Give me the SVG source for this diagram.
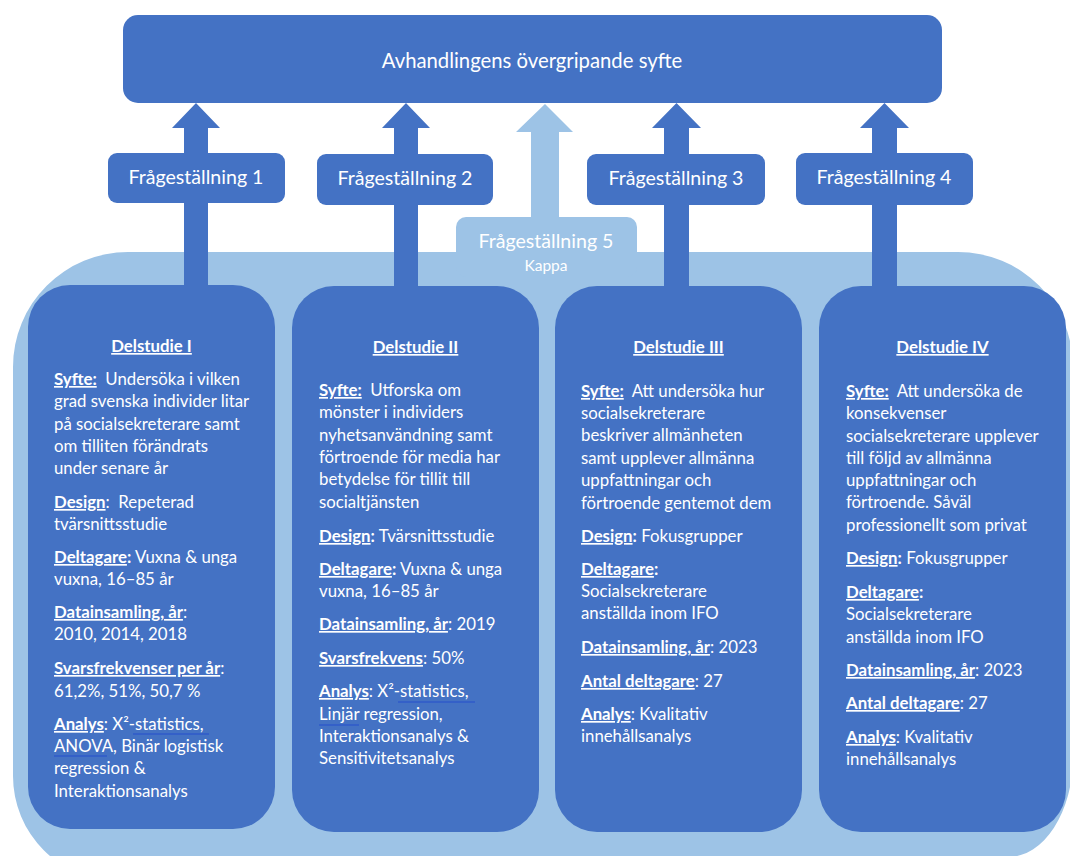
<svg xmlns="http://www.w3.org/2000/svg" width="1070" height="856" viewBox="0 0 1070 856">
  <style>
    .dark { fill: #4472C4; }
    .light { fill: #9DC3E6; }
    text { font-family: Lato, "Open Sans", "Liberation Sans", sans-serif; fill: #ffffff; white-space: pre; }
    .head { font-size: 20.3px; }
    .q { font-size: 19.6px; text-anchor: middle; }
    .kappa { font-size: 15.5px; text-anchor: middle; }
    .body { font-size: 16.8px; }
    .title { font-size: 16.8px; font-weight: bold; text-decoration: underline; text-anchor: middle; }
    .b { font-weight: bold; }
    .u { text-decoration: underline; }
    .spell { stroke: #2F5BC9; stroke-width: 1.3; fill: none; }
  </style>

  <!-- light background panel holding the four sub-studies -->
  <g id="kappa-panel">
    <path class="light" d="M128,252 H958 A115,115 0 0 1 1073,367 V757 A65,100 0 0 1 1008,857 L1008,900 L118,900 L118,881 A105,105 0 0 1 13,776 V367 A115,115 0 0 1 128,252 Z"/>
  </g>

  <!-- arrows from each research question up to the overall aim -->
  <g id="connectors">
    <polygon class="light" points="531,286 531,132 516,132 545,104 573,132 559,132 559,286"/>
    <polygon class="dark" points="184,286 184,128 172,128 196,103 220,128 208,128 208,286"/>
    <polygon class="dark" points="394,287 394,128 382,128 406,103 430,128 418,128 418,287"/>
    <polygon class="dark" points="664,287 664,128 652,128 676.5,103 701,128 689,128 689,287"/>
    <polygon class="dark" points="872,287 872,128 860,128 884.5,103 909,128 897,128 897,287"/>
  </g>

  <g id="aim">
    <rect class="dark" x="123" y="15" width="819" height="88" rx="15"/>
    <text class="head" x="532" y="68" text-anchor="middle">Avhandlingens övergripande syfte</text>
  </g>

  <g id="q1">
    <rect class="dark" x="108" y="153" width="177" height="50" rx="9"/>
    <text class="q" x="196" y="184">Frågeställning 1</text>
  </g>
  <g id="q2">
    <rect class="dark" x="317" y="154" width="176" height="51" rx="9"/>
    <text class="q" x="405" y="185">Frågeställning 2</text>
  </g>
  <g id="q3">
    <rect class="dark" x="587" y="154" width="178" height="51" rx="9"/>
    <text class="q" x="676" y="185">Frågeställning 3</text>
  </g>
  <g id="q4">
    <rect class="dark" x="796" y="153" width="177" height="52" rx="9"/>
    <text class="q" x="884" y="184">Frågeställning 4</text>
  </g>
  <g id="q5">
    <rect class="light" x="456" y="217" width="181" height="60" rx="10"/>
    <text class="q" x="546" y="248">Frågeställning 5</text>
    <text class="kappa" x="546" y="271">Kappa</text>
  </g>

  <g id="delstudie-1">
    <rect class="dark" x="28" y="285" width="247" height="544" rx="42"/>
    <text class="title" x="151.5" y="352">Delstudie I</text>
    <text class="body" x="54" y="385"><tspan class="b u">Syfte:</tspan>  Undersöka i vilken</text>
    <text class="body" x="54" y="407">grad svenska individer litar</text>
    <text class="body" x="54" y="430">på socialsekreterare samt</text>
    <text class="body" x="54" y="452">om tilliten förändrats</text>
    <text class="body" x="54" y="474">under senare år</text>
    <text class="body" x="54" y="508"><tspan class="b u">Design</tspan>:  Repeterad</text>
    <text class="body" x="54" y="530">tvärsnittsstudie</text>
    <text class="body" x="54" y="563"><tspan class="b u">Deltagare</tspan><tspan class="b">:</tspan> Vuxna &amp; unga</text>
    <text class="body" x="54" y="585">vuxna, 16–85 år</text>
    <text class="body" x="54" y="618"><tspan class="b u">Datainsamling, år</tspan>:</text>
    <text class="body" x="54" y="640">2010, 2014, 2018</text>
    <text class="body" x="54" y="674"><tspan class="b u">Svarsfrekvenser per år</tspan>:</text>
    <text class="body" x="54" y="697">61,2%, 51%, 50,7 %</text>
    <text class="body" x="54" y="730"><tspan class="b u">Analys</tspan>: X²-statistics,</text>
    <text class="body" x="54" y="752">ANOVA, Binär logistisk</text>
    <text class="body" x="54" y="774">regression &amp;</text>
    <text class="body" x="54" y="797">Interaktionsanalys</text>
    <path class="spell" d="M133,734 H209 M54,756 H107"/>
  </g>

  <g id="delstudie-2">
    <rect class="dark" x="292" y="286" width="247" height="546" rx="42"/>
    <text class="title" x="415.5" y="353">Delstudie II</text>
    <text class="body" x="319" y="396"><tspan class="b u">Syfte:</tspan>  Utforska om</text>
    <text class="body" x="319" y="418">mönster i individers</text>
    <text class="body" x="319" y="441">nyhetsanvändning samt</text>
    <text class="body" x="319" y="463">förtroende för media har</text>
    <text class="body" x="319" y="485">betydelse för tillit till</text>
    <text class="body" x="319" y="508">socialtjänsten</text>
    <text class="body" x="319" y="542"><tspan class="b u">Design</tspan><tspan class="b">:</tspan> Tvärsnittsstudie</text>
    <text class="body" x="319" y="575"><tspan class="b u">Deltagare</tspan><tspan class="b">:</tspan> Vuxna &amp; unga</text>
    <text class="body" x="319" y="597">vuxna, 16–85 år</text>
    <text class="body" x="319" y="630"><tspan class="b u">Datainsamling, år</tspan>: 2019</text>
    <text class="body" x="319" y="664"><tspan class="b u">Svarsfrekvens</tspan>: 50%</text>
    <text class="body" x="319" y="697"><tspan class="b u">Analys</tspan>: X²-statistics,</text>
    <text class="body" x="319" y="720">Linjär regression,</text>
    <text class="body" x="319" y="742">Interaktionsanalys &amp;</text>
    <text class="body" x="319" y="764">Sensitivitetsanalys</text>
    <path class="spell" d="M398,702 H475 M319,725 H359"/>
  </g>

  <g id="delstudie-3">
    <rect class="dark" x="555" y="286" width="247" height="546" rx="42"/>
    <text class="title" x="678.5" y="353">Delstudie III</text>
    <text class="body" x="581" y="397"><tspan class="b u">Syfte:</tspan>  Att undersöka hur</text>
    <text class="body" x="581" y="419">socialsekreterare</text>
    <text class="body" x="581" y="441">beskriver allmänheten</text>
    <text class="body" x="581" y="464">samt upplever allmänna</text>
    <text class="body" x="581" y="486">uppfattningar och</text>
    <text class="body" x="581" y="509">förtroende gentemot dem</text>
    <text class="body" x="581" y="542"><tspan class="b u">Design</tspan><tspan class="b">:</tspan> Fokusgrupper</text>
    <text class="body" x="581" y="575"><tspan class="b u">Deltagare</tspan><tspan class="b">:</tspan></text>
    <text class="body" x="581" y="597">Socialsekreterare</text>
    <text class="body" x="581" y="619">anställda inom IFO</text>
    <text class="body" x="581" y="653"><tspan class="b u">Datainsamling, år</tspan>: 2023</text>
    <text class="body" x="581" y="687"><tspan class="b u">Antal deltagare</tspan>: 27</text>
    <text class="body" x="581" y="720"><tspan class="b u">Analys</tspan>: Kvalitativ</text>
    <text class="body" x="581" y="742">innehållsanalys</text>
  </g>

  <g id="delstudie-4">
    <rect class="dark" x="819" y="286" width="247" height="546" rx="42"/>
    <text class="title" x="942.5" y="353">Delstudie IV</text>
    <text class="body" x="846" y="397"><tspan class="b u">Syfte:</tspan>  Att undersöka de</text>
    <text class="body" x="846" y="419">konsekvenser</text>
    <text class="body" x="846" y="442">socialsekreterare upplever</text>
    <text class="body" x="846" y="464">till följd av allmänna</text>
    <text class="body" x="846" y="486">uppfattningar och</text>
    <text class="body" x="846" y="508">förtroende. Såväl</text>
    <text class="body" x="846" y="531">professionellt som privat</text>
    <text class="body" x="846" y="564"><tspan class="b u">Design</tspan><tspan class="b">:</tspan> Fokusgrupper</text>
    <text class="body" x="846" y="598"><tspan class="b u">Deltagare</tspan><tspan class="b">:</tspan></text>
    <text class="body" x="846" y="620">Socialsekreterare</text>
    <text class="body" x="846" y="643">anställda inom IFO</text>
    <text class="body" x="846" y="676"><tspan class="b u">Datainsamling, år</tspan>: 2023</text>
    <text class="body" x="846" y="709"><tspan class="b u">Antal deltagare</tspan>: 27</text>
    <text class="body" x="846" y="743"><tspan class="b u">Analys</tspan>: Kvalitativ</text>
    <text class="body" x="846" y="765">innehållsanalys</text>
  </g>
</svg>
